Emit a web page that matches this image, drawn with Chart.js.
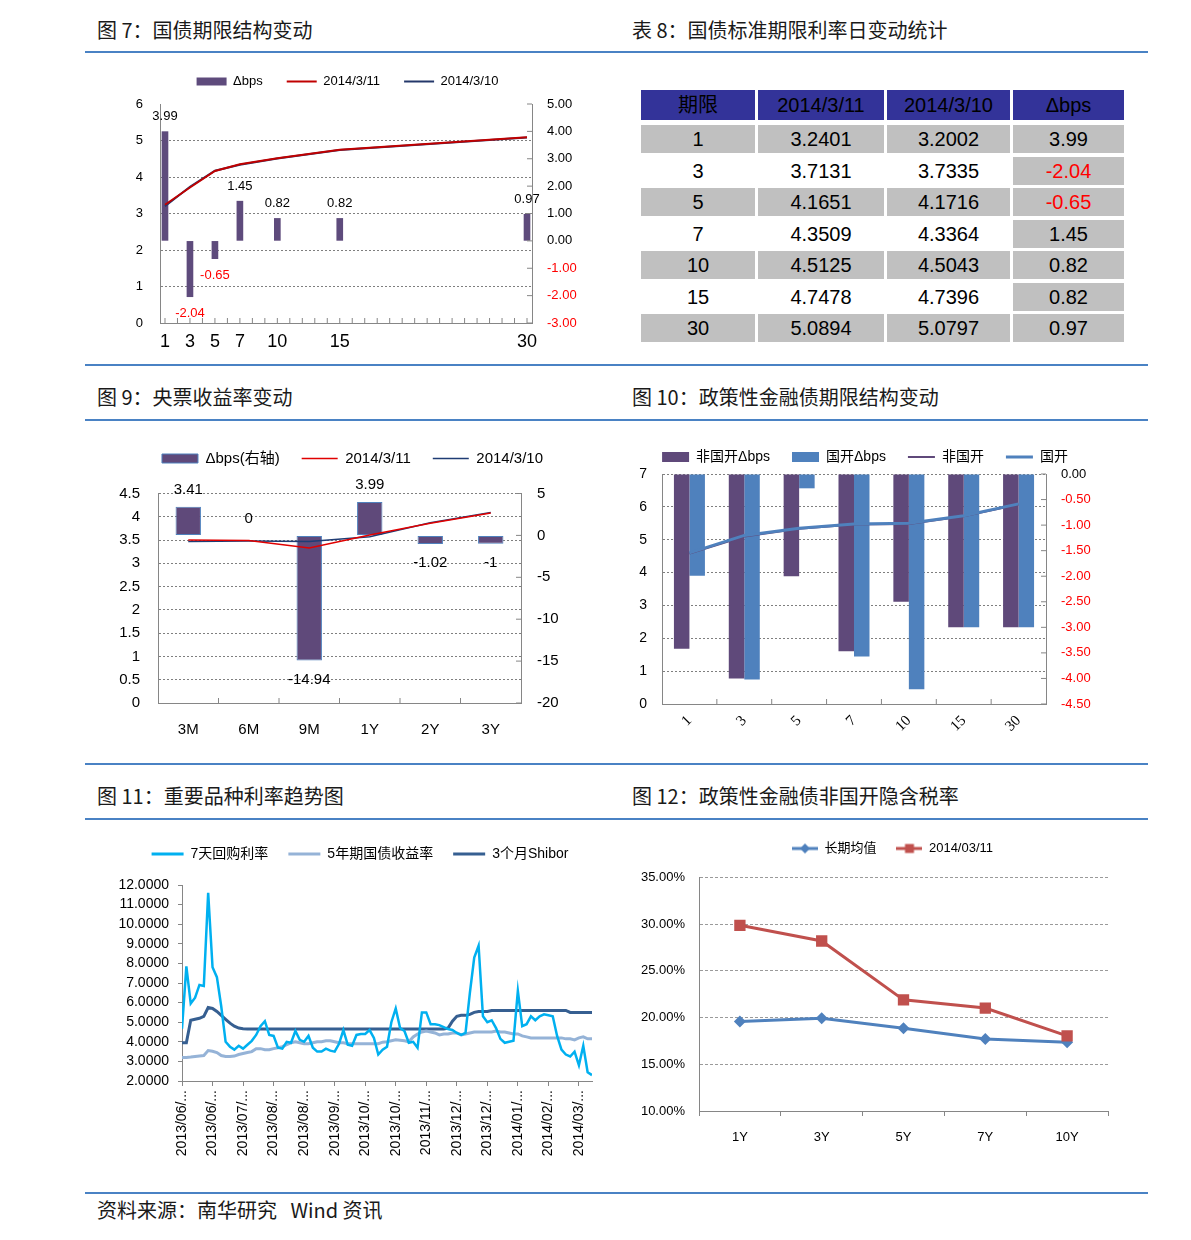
<!DOCTYPE html>
<html lang="zh">
<head>
<meta charset="utf-8">
<title>国债与政策性金融债利率</title>
<script src="https://cdn.jsdelivr.net/npm/chart.js@4.4.1/dist/chart.umd.min.js"></script>
<style>
  body { margin: 0; background: #fff; }
  #page { position: relative; width: 1191px; height: 1240px; overflow: hidden;
          font-family: "Noto Sans CJK SC", sans-serif; color: #1a1a1a; }
  .title { position: absolute; font-size: 20px; line-height: 22px; white-space: pre; }
  .rule { position: absolute; left: 85px; width: 1063px; height: 2px; background: #4a82c4; }
  .chart { position: absolute; }
  .cell { position: absolute; text-align: center; color: #000;
          font-family: "Liberation Sans", "Noto Sans CJK SC", sans-serif; font-size: 20px; }
</style>
</head>
<body>
<div id="page">
  <div class="title" style="left:97px;top:19px">图 7：国债期限结构变动</div>
  <div class="title" style="left:632px;top:19px">表 8：国债标准期限利率日变动统计</div>
  <div class="rule" style="top:51px"></div>
  <div class="chart" style="left:110px;top:51px;width:475px;height:310px"><canvas id="c7"></canvas></div>

  <div class="rule" style="top:364px"></div>
  <div class="title" style="left:97px;top:386px">图 9：央票收益率变动</div>
  <div class="title" style="left:632px;top:386px">图 10：政策性金融债期限结构变动</div>
  <div class="rule" style="top:419px"></div>
  <div class="chart" style="left:100px;top:429px;width:505px;height:314px"><canvas id="c9"></canvas></div>
  <div class="chart" style="left:630px;top:428px;width:470px;height:322px"><canvas id="c10"></canvas></div>

  <div class="rule" style="top:763px"></div>
  <div class="title" style="left:97px;top:785px">图 11：重要品种利率趋势图</div>
  <div class="title" style="left:632px;top:785px">图 12：政策性金融债非国开隐含税率</div>
  <div class="rule" style="top:818px"></div>
  <div class="chart" style="left:100px;top:827px;width:520px;height:343px"><canvas id="c11"></canvas></div>
  <div class="chart" style="left:630px;top:822px;width:525px;height:333px"><canvas id="c12"></canvas></div>

  <div class="rule" style="top:1192px"></div>
  <div class="title" style="left:97px;top:1199px">资料来源：南华研究   Wind 资讯</div>
</div>

<script>
// 图7 / 表8：国债标准期限
const tenors = [1, 3, 5, 7, 10, 15, 30];
const rate0311 = [3.2401, 3.7131, 4.1651, 4.3509, 4.5125, 4.7478, 5.0894];
const rate0310 = [3.2002, 3.7335, 4.1716, 4.3364, 4.5043, 4.7396, 5.0797];
const bpsChange = [3.99, -2.04, -0.65, 1.45, 0.82, 0.82, 0.97];

// 图9：央票
const cbTerms = ["3M", "6M", "9M", "1Y", "2Y", "3Y"];
const cbBps = [3.41, 0, -14.94, 3.99, -1.02, -1];
const cb0311 = [3.50, 3.49, 3.33, 3.61, 3.86, 4.08];
const cb0310 = [3.47, 3.48, 3.47, 3.57, 3.87, 4.09];

// 图10：政策性金融债
const pfTerms = ["1", "3", "5", "7", "10", "15", "30"];
const nonCdbBps = [-3.42, -4.00, -2.00, -3.47, -2.50, -3.00, -3.00];
const cdbBps = [-1.99, -4.02, -0.28, -3.57, -4.21, -3.00, -3.00];
const nonCdbRate = [4.58, 5.10, 5.33, 5.46, 5.48, 5.71, 6.07];
const cdbRate = [4.60, 5.13, 5.35, 5.48, 5.50, 5.73, 6.09];

// 图11：重要品种利率（约每两个交易日一个点）
const dateTicks = ["2013/06/...", "2013/06/...", "2013/07/...", "2013/08/...", "2013/08/...",
  "2013/09/...", "2013/10/...", "2013/10/...", "2013/11/...", "2013/12/...",
  "2013/12/...", "2014/01/...", "2014/02/...", "2014/03/..."];
const repo7d = [
  4.67, 7.85, 5.95, 6.25, 6.90, 6.85, 11.60, 7.80, 7.30, 5.80,
  4.00, 3.75, 3.60, 3.80, 3.65, 3.85, 4.05, 4.35, 4.80, 5.05,
  4.35, 4.30, 3.70, 3.65, 4.00, 3.95, 4.55, 4.10, 4.00, 4.30,
  3.70, 3.50, 3.50, 3.65, 3.55, 3.50, 3.90, 4.60, 3.85, 3.80,
  4.35, 4.40, 4.40, 4.60, 4.20, 3.35, 3.60, 3.75, 5.00, 5.70,
  4.70, 4.55, 3.95, 4.00, 3.70, 5.50, 5.50, 4.90, 4.90, 4.85,
  4.75, 4.65, 4.60, 4.45, 4.35, 4.45, 6.50, 8.30, 8.90, 5.30,
  5.00, 5.10, 4.70, 4.15, 3.95, 4.00, 4.05, 6.60, 4.80, 4.90,
  5.30, 5.10, 5.30, 5.40, 5.35, 5.30, 4.30, 3.60, 3.35, 3.25,
  3.50, 2.80, 3.80, 2.45, 2.30];
const cgb5y = [
  3.20, 3.20, 3.22, 3.25, 3.28, 3.30, 3.55, 3.52, 3.45, 3.30,
  3.25, 3.25, 3.27, 3.35, 3.40, 3.45, 3.50, 3.65, 3.65, 3.60,
  3.60, 3.65, 3.70, 3.75, 3.85, 3.95, 4.00, 3.95, 3.90, 3.90,
  3.95, 4.00, 4.00, 4.05, 4.05, 4.00, 3.95, 3.95, 3.90, 3.90,
  3.90, 3.90, 3.90, 3.90, 3.90, 3.90, 3.98, 4.00, 4.05, 4.10,
  4.08, 4.05, 4.00, 4.25, 4.40, 4.50, 4.55, 4.50, 4.45, 4.35,
  4.40, 4.40, 4.45, 4.45, 4.35, 4.40, 4.45, 4.50, 4.50, 4.50,
  4.50, 4.50, 4.55, 4.50, 4.50, 4.45, 4.40, 4.40, 4.30, 4.25,
  4.20, 4.20, 4.20, 4.20, 4.20, 4.20, 4.20, 4.20, 4.15, 4.15,
  4.10, 4.20, 4.25, 4.15, 4.15];
const shibor3m = [
  3.95, 3.95, 5.10, 5.15, 5.20, 5.30, 5.75, 5.70, 5.55, 5.35,
  5.15, 4.95, 4.80, 4.70, 4.67, 4.65, 4.65, 4.65, 4.65, 4.65,
  4.65, 4.65, 4.65, 4.65, 4.65, 4.65, 4.65, 4.65, 4.65, 4.65,
  4.65, 4.65, 4.65, 4.65, 4.65, 4.65, 4.65, 4.65, 4.65, 4.65,
  4.65, 4.65, 4.65, 4.65, 4.65, 4.65, 4.65, 4.65, 4.65, 4.65,
  4.65, 4.65, 4.65, 4.65, 4.65, 4.65, 4.65, 4.65, 4.65, 4.65,
  4.65, 4.70, 5.05, 5.30, 5.35, 5.35, 5.40, 5.50, 5.55, 5.55,
  5.55, 5.60, 5.60, 5.60, 5.60, 5.60, 5.60, 5.60, 5.60, 5.60,
  5.60, 5.60, 5.60, 5.60, 5.60, 5.60, 5.60, 5.60, 5.60, 5.50,
  5.50, 5.50, 5.50, 5.50, 5.50];

// 图12：非国开隐含税率 (%)
const taxTerms = ["1Y", "3Y", "5Y", "7Y", "10Y"];
const taxAvg = [19.58, 19.94, 18.87, 17.72, 17.37];
const tax0311 = [29.88, 28.20, 21.90, 21.02, 18.05];

Chart.defaults.font.family = '"Liberation Sans", "Noto Sans CJK SC", sans-serif';
Chart.defaults.color = "#000";
Chart.defaults.animation = false;
Chart.defaults.plugins.tooltip.enabled = false;
Chart.defaults.plugins.legend.labels.sort = (a, b) => a.datasetIndex - b.datasetIndex;

const AXIS = "#868686";
const GRID = "#7f7f7f";
const negRed = (c) => (c.tick && c.tick.value < 0 ? "#ff0000" : "#000");
const gridAbove = (lo, hi) => (c) =>
  c.tick && c.tick.value > lo && c.tick.value <= hi ? GRID : "rgba(0,0,0,0)";

// extra room under the legend
const legendGap = {
  id: "legendGap",
  beforeInit(chart, args, opts) {
    const fit = chart.legend.fit;
    chart.legend.fit = function () {
      fit.call(this);
      this.height += opts.extra || 0;
    };
  },
};

// value labels at the end of each bar
const barLabels = {
  id: "barLabels",
  afterDatasetsDraw(chart, args, opts) {
    const ctx = chart.ctx;
    chart.data.datasets.forEach((ds, i) => {
      if (ds.type !== "bar") return;
      chart.getDatasetMeta(i).data.forEach((bar, j) => {
        const raw = ds.data[j];
        const v = typeof raw === "object" ? raw.y : raw;
        ctx.save();
        ctx.font = opts.font;
        ctx.textAlign = "center";
        ctx.textBaseline = "middle";
        ctx.fillStyle = v < 0 ? opts.negColor : opts.color;
        ctx.fillText(String(v), bar.x, v < 0 ? bar.y + opts.below : bar.y - opts.above);
        ctx.restore();
      });
    });
  },
};

// short tick marks pointing into the plot
const innerTicks = {
  id: "innerTicks",
  afterDraw(chart, args, opts) {
    const ctx = chart.ctx;
    (opts.items || []).forEach((it) => {
      const s = chart.scales[it.axis];
      let ps = [];
      if (it.mode === "bounds") {
        const n = s.ticks.length;
        for (let k = 1; k < n; k++) ps.push(s.left + (k * s.width) / n);
      } else {
        ps = s.ticks.map((t, k) => s.getPixelForTick(k));
      }
      ctx.save();
      ctx.strokeStyle = AXIS;
      ctx.lineWidth = 1;
      ctx.beginPath();
      ps.forEach((p) => {
        if (s.isHorizontal()) {
          ctx.moveTo(p, s.top);
          ctx.lineTo(p, s.top - it.len);
        } else {
          ctx.moveTo(s.left, p);
          ctx.lineTo(s.left - it.len, p);
        }
      });
      ctx.stroke();
      ctx.restore();
    });
  },
};

const dummyRight = (w) => ({
  position: "right",
  display: true,
  ticks: { display: false },
  grid: { display: false, drawTicks: false },
  border: { display: false },
  afterFit: (s) => { s.width = w; },
});

// ---------- 图7 ----------
new Chart(document.getElementById("c7"), {
  type: "bar",
  data: {
    datasets: [
      {
        type: "bar", label: "Δbps", yAxisID: "y1",
        data: tenors.map((t, i) => ({ x: t, y: bpsChange[i] })),
        backgroundColor: "#5e4b7c", borderWidth: 0, barThickness: 6,
        pointStyle: "rect", order: 2,
      },
      {
        type: "line", label: "2014/3/11", yAxisID: "y",
        data: tenors.map((t, i) => ({ x: t, y: rate0311[i] })),
        borderColor: "#c00000", borderWidth: 2, pointRadius: 0, pointBorderWidth: 2,
        pointStyle: "line", order: 0,
      },
      {
        type: "line", label: "2014/3/10", yAxisID: "y",
        data: tenors.map((t, i) => ({ x: t, y: rate0310[i] })),
        borderColor: "#24386a", borderWidth: 2, pointRadius: 0, pointBorderWidth: 2,
        pointStyle: "line", order: 1,
      },
    ],
  },
  options: {
    responsive: true,
    maintainAspectRatio: false,
    plugins: {
      legend: {
        labels: { usePointStyle: true, pointStyleWidth: 30, boxHeight: 8, padding: 24, font: { size: 13 } },
      },
      legendGap: { extra: 6 },
      barLabels: { font: '13px "Liberation Sans"', color: "#000", negColor: "#ff0000", above: 15, below: 17 },
      innerTicks: { items: [{ axis: "x", mode: "ticks", len: 5 }, { axis: "y1", mode: "ticks", len: 5 }] },
    },
    scales: {
      x: {
        type: "linear", min: 0.6, max: 30.4, offset: false,
        afterBuildTicks: (s) => {
          s.ticks = [];
          for (let v = 1; v <= 30; v++) s.ticks.push({ value: v });
        },
        ticks: {
          autoSkip: false, maxRotation: 0, font: { size: 18 }, padding: 8,
          callback: (v) => (tenors.includes(v) ? String(v) : ""),
        },
        grid: { display: false, drawTicks: false },
        border: { color: AXIS },
        afterFit: (s) => { s.height = 38; },
      },
      y: {
        position: "left", min: 0, max: 6,
        ticks: { stepSize: 1, font: { size: 13 }, padding: 17 },
        grid: { color: gridAbove(0, 5), drawTicks: false },
        border: { color: AXIS, dash: [2, 2] },
        afterFit: (s) => { s.width = 50; },
      },
      y1: {
        position: "right", min: -3, max: 5,
        ticks: { stepSize: 1, font: { size: 13 }, padding: 15, color: negRed, callback: (v) => v.toFixed(2) },
        grid: { drawOnChartArea: false, drawTicks: false },
        border: { color: AXIS },
        afterFit: (s) => { s.width = 53; },
      },
    },
  },
  plugins: [legendGap, barLabels, innerTicks],
});

// ---------- 表8 ----------
const page = document.getElementById("page");
const colLeft = [641, 758, 887, 1013];
const colWidth = [114, 126, 123, 111];
const headText = ["期限", "2014/3/11", "2014/3/10", "Δbps"];
function addCell(text, x, y, w, h, bg, color) {
  const d = document.createElement("div");
  d.className = "cell";
  d.textContent = text;
  d.style.cssText += `left:${x}px;top:${y}px;width:${w}px;height:${h}px;line-height:${h}px;background:${bg};color:${color}`;
  page.appendChild(d);
}
headText.forEach((t, c) => addCell(t, colLeft[c], 90, colWidth[c], 30, "#333399", "#000"));
tenors.forEach((t, r) => {
  const y = 125 + r * 31.5;
  const vals = [String(t), rate0311[r].toFixed(4), rate0310[r].toFixed(4), bpsChange[r].toFixed(2)];
  vals.forEach((v, c) => {
    const shaded = r % 2 === 0 || c === 3;
    const red = c === 3 && bpsChange[r] < 0;
    addCell(v, colLeft[c], y, colWidth[c], 28, shaded ? "#c0c0c0" : "#fff", red ? "#ff0000" : "#000");
  });
});

// ---------- 图9 ----------
new Chart(document.getElementById("c9"), {
  type: "bar",
  data: {
    labels: cbTerms,
    datasets: [
      {
        type: "bar", label: "Δbps(右轴)", data: cbBps, yAxisID: "y1",
        backgroundColor: "#5f497a", borderColor: "#4f81bd", borderWidth: 1, borderSkipped: false,
        barPercentage: 0.42, categoryPercentage: 1, pointStyle: "rect", order: 2,
      },
      {
        type: "line", label: "2014/3/11", data: cb0311, yAxisID: "y",
        borderColor: "#e00000", borderWidth: 1.5, pointRadius: 0, pointBorderWidth: 1.5,
        pointStyle: "line", order: 0,
      },
      {
        type: "line", label: "2014/3/10", data: cb0310, yAxisID: "y",
        borderColor: "#1f3c74", borderWidth: 1.5, pointRadius: 0, pointBorderWidth: 1.5,
        pointStyle: "line", order: 1,
      },
    ],
  },
  options: {
    responsive: true,
    maintainAspectRatio: false,
    plugins: {
      legend: {
        labels: { usePointStyle: true, pointStyleWidth: 36, boxHeight: 9, padding: 22, font: { size: 15 } },
      },
      legendGap: { extra: 17.5 },
      barLabels: { font: '15px "Liberation Sans"', color: "#000", negColor: "#000", above: 17, below: 19 },
      innerTicks: { items: [{ axis: "x", mode: "bounds", len: 5 }, { axis: "y1", mode: "ticks", len: 5 }] },
    },
    scales: {
      x: {
        ticks: { font: { size: 15 }, padding: 18 },
        grid: { display: false, drawTicks: false },
        border: { color: AXIS },
        afterFit: (s) => { s.height = 40; },
      },
      y: {
        position: "left", min: 0, max: 4.5,
        ticks: { stepSize: 0.5, font: { size: 15 }, padding: 18, callback: (v) => String(+v.toFixed(1)) },
        grid: { color: gridAbove(0, 4.5), drawTicks: false },
        border: { color: AXIS, dash: [2, 2] },
        afterFit: (s) => { s.width = 58; },
      },
      y1: {
        position: "right", min: -20, max: 5,
        ticks: { stepSize: 5, font: { size: 15 }, padding: 16 },
        grid: { drawOnChartArea: false, drawTicks: false },
        border: { color: AXIS },
        afterFit: (s) => { s.width = 84; },
      },
    },
  },
  plugins: [legendGap, barLabels, innerTicks],
});

// ---------- 图10 ----------
new Chart(document.getElementById("c10"), {
  type: "bar",
  data: {
    labels: pfTerms,
    datasets: [
      {
        type: "bar", label: "非国开Δbps", data: nonCdbBps, yAxisID: "y1",
        backgroundColor: "#5f497a", borderWidth: 0, barPercentage: 1, categoryPercentage: 0.565,
        pointStyle: "rect", order: 2,
      },
      {
        type: "bar", label: "国开Δbps", data: cdbBps, yAxisID: "y1",
        backgroundColor: "#4f81bd", borderWidth: 0, barPercentage: 1, categoryPercentage: 0.565,
        pointStyle: "rect", order: 2,
      },
      {
        type: "line", label: "非国开", data: nonCdbRate, yAxisID: "y",
        borderColor: "#5f497a", borderWidth: 2, pointRadius: 0, pointBorderWidth: 2,
        pointStyle: "line", order: 1,
      },
      {
        type: "line", label: "国开", data: cdbRate, yAxisID: "y",
        borderColor: "#4f81bd", borderWidth: 3, pointRadius: 0, pointBorderWidth: 3,
        pointStyle: "line", order: 0,
      },
    ],
  },
  options: {
    responsive: true,
    maintainAspectRatio: false,
    plugins: {
      legend: {
        labels: { usePointStyle: true, pointStyleWidth: 27, boxHeight: 10, padding: 22, font: { size: 14 } },
      },
      legendGap: { extra: 0 },
      innerTicks: { items: [{ axis: "x", mode: "bounds", len: 5 }, { axis: "y1", mode: "ticks", len: 5 }] },
    },
    scales: {
      x: {
        ticks: { font: { family: '"Liberation Serif", serif', size: 15 }, minRotation: 45, maxRotation: 45, padding: 8 },
        grid: { display: false, drawTicks: false },
        border: { color: AXIS },
        afterFit: (s) => { s.height = 46; },
      },
      y: {
        position: "left", min: 0, max: 7,
        ticks: { stepSize: 1, font: { size: 14 }, padding: 15 },
        grid: { color: gridAbove(0, 7), drawTicks: false },
        border: { color: AXIS, dash: [2, 2] },
        afterFit: (s) => { s.width = 32; },
      },
      y1: {
        position: "right", min: -4.5, max: 0,
        ticks: { stepSize: 0.5, font: { size: 13 }, padding: 15, color: negRed, callback: (v) => v.toFixed(2) },
        grid: { drawOnChartArea: false, drawTicks: false },
        border: { color: AXIS },
        afterFit: (s) => { s.width = 54; },
      },
    },
  },
  plugins: [legendGap, innerTicks],
});

// ---------- 图11 ----------
const asXY = (arr) => arr.map((v, i) => ({ x: i, y: v }));
new Chart(document.getElementById("c11"), {
  type: "line",
  data: {
    datasets: [
      { label: "7天回购利率", data: asXY(repo7d), borderColor: "#00b0f0", borderWidth: 2.5,
        pointRadius: 0, pointBorderWidth: 3, pointStyle: "line" },
      { label: "5年期国债收益率", data: asXY(cgb5y), borderColor: "#95b3d7", borderWidth: 3,
        pointRadius: 0, pointBorderWidth: 3, pointStyle: "line" },
      { label: "3个月Shibor", data: asXY(shibor3m), borderColor: "#365f91", borderWidth: 3,
        pointRadius: 0, pointBorderWidth: 3, pointStyle: "line" },
    ],
  },
  options: {
    responsive: true,
    maintainAspectRatio: false,
    plugins: {
      legend: {
        labels: { usePointStyle: true, pointStyleWidth: 32, boxHeight: 8, padding: 20, font: { size: 14 } },
      },
      legendGap: { extra: 14 },
    },
    scales: {
      x: {
        type: "linear", min: 0, max: repo7d.length - 1,
        ticks: {
          stepSize: 7, includeBounds: false, autoSkip: false, minRotation: 90, maxRotation: 90,
          padding: 4, font: { size: 14 }, callback: (v) => dateTicks[v / 7],
        },
        grid: { drawOnChartArea: false, tickLength: 5, color: AXIS },
        border: { color: AXIS },
        afterFit: (s) => { s.height = 89; },
      },
      y: {
        min: 2, max: 12,
        ticks: { stepSize: 1, autoSkip: false, font: { size: 14 }, padding: 9, callback: (v) => v.toFixed(4) },
        grid: { drawOnChartArea: false, tickLength: 4, color: AXIS },
        border: { color: AXIS },
        afterFit: (s) => { s.width = 82; },
      },
      yr: dummyRight(28),
    },
  },
  plugins: [legendGap],
});

// ---------- 图12 ----------
function legendIcon(color, shape) {
  const c = document.createElement("canvas");
  c.width = 26;
  c.height = 12;
  const g = c.getContext("2d");
  g.strokeStyle = color;
  g.fillStyle = color;
  g.lineWidth = 3;
  g.beginPath();
  g.moveTo(0, 6);
  g.lineTo(26, 6);
  g.stroke();
  g.beginPath();
  if (shape === "rectRot") {
    g.moveTo(13, 1); g.lineTo(18, 6); g.lineTo(13, 11); g.lineTo(8, 6); g.closePath();
  } else {
    g.rect(8.5, 1.5, 9, 9);
  }
  g.fill();
  return c;
}

new Chart(document.getElementById("c12"), {
  type: "line",
  data: {
    labels: taxTerms,
    datasets: [
      { label: "长期均值", data: taxAvg, borderColor: "#4f81bd", backgroundColor: "#4f81bd",
        borderWidth: 3, pointStyle: "rectRot", pointRadius: 6, pointBorderWidth: 0, order: 1 },
      { label: "2014/03/11", data: tax0311, borderColor: "#c0504d", backgroundColor: "#c0504d",
        borderWidth: 3, pointStyle: "rect", pointRadius: 8, pointBorderWidth: 0, order: 0 },
    ],
  },
  options: {
    responsive: true,
    maintainAspectRatio: false,
    plugins: {
      legend: {
        labels: {
          usePointStyle: true, pointStyleWidth: 26, boxHeight: 12, padding: 20, font: { size: 13 },
          generateLabels(chart) {
            const items = Chart.defaults.plugins.legend.labels.generateLabels(chart);
            items.forEach((it) => {
              const ds = chart.data.datasets[it.datasetIndex];
              it.pointStyle = legendIcon(ds.borderColor, ds.pointStyle);
            });
            return items;
          },
        },
      },
      legendGap: { extra: 12.5 },
    },
    scales: {
      x: {
        offset: true,
        ticks: { font: { size: 13 }, padding: 14 },
        grid: { offset: true, drawOnChartArea: false, tickLength: 5, color: AXIS },
        border: { color: AXIS },
        afterFit: (s) => { s.height = 44; },
      },
      y: {
        min: 10, max: 35,
        ticks: { stepSize: 5, font: { size: 13 }, padding: 14, callback: (v) => v.toFixed(2) + "%" },
        grid: { color: (c) => (c.tick && c.tick.value > 10 ? "#9a9a9a" : "rgba(0,0,0,0)"), drawTicks: false },
        border: { color: AXIS, dash: [3, 2] },
        afterFit: (s) => { s.width = 69; },
      },
      yr: dummyRight(47),
    },
  },
  plugins: [legendGap],
});
</script>
</body>
</html>
